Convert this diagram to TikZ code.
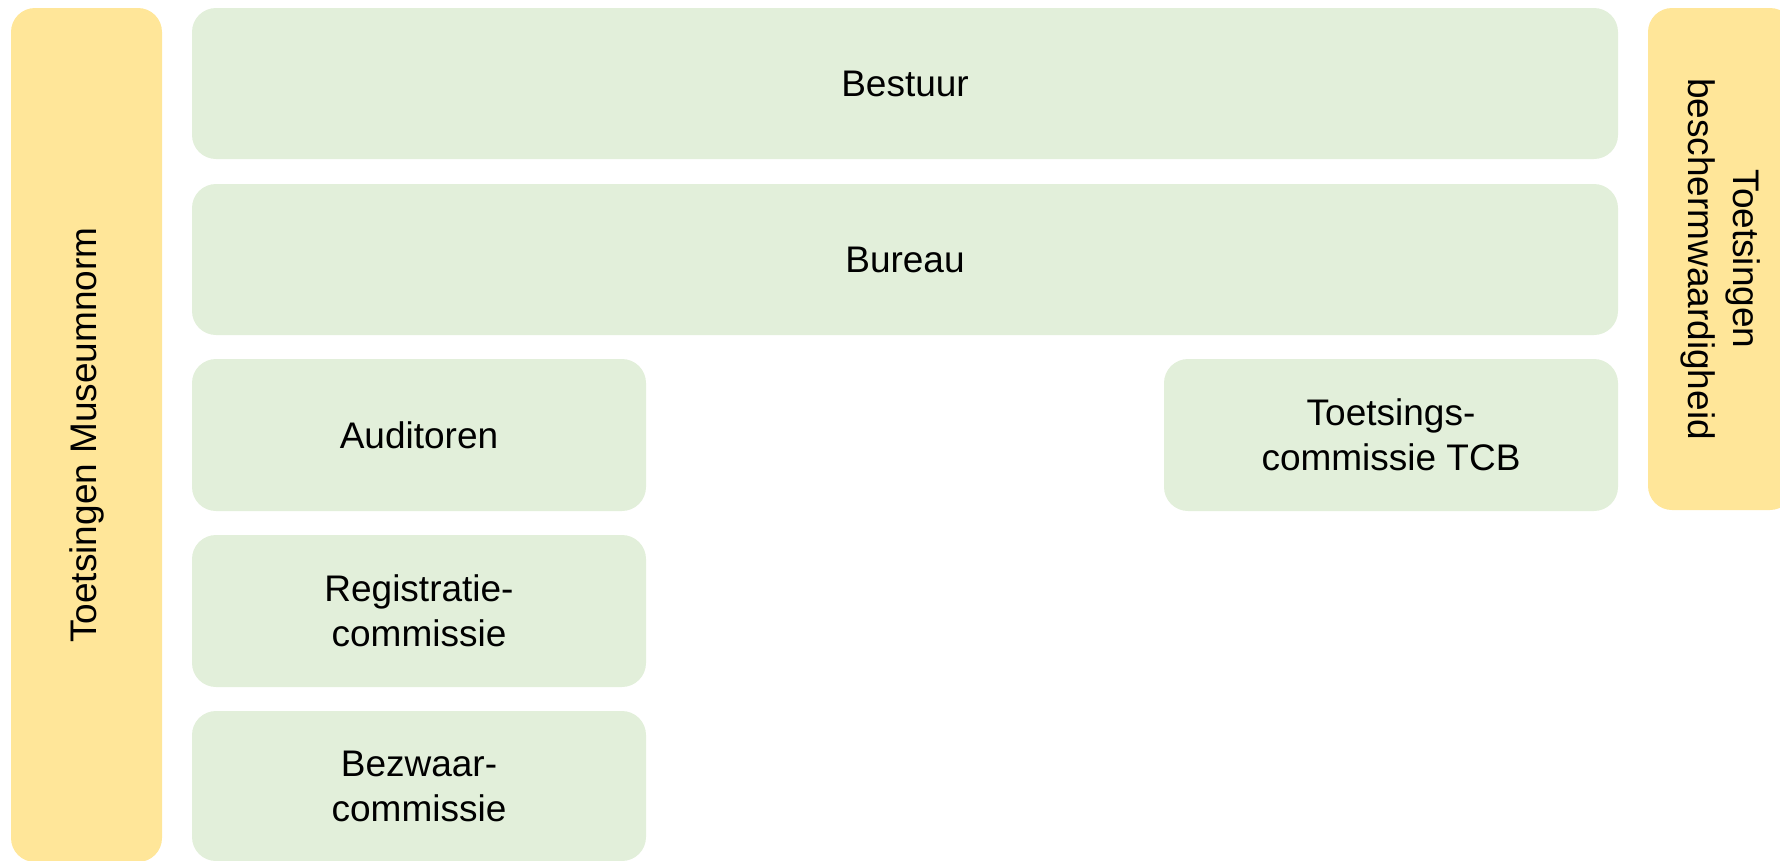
\documentclass[tikz,border=0pt]{standalone}
\usepackage{fontspec}
\setmainfont{Liberation Sans}
\definecolor{ygold}{HTML}{FFE699}
\definecolor{lgreen}{HTML}{E2EFDA}
\begin{document}
\begin{tikzpicture}[x=1pt,y=-1pt,
  box/.style={rounded corners=24pt, inner sep=0pt, align=center, font=\fontsize{37}{45}\selectfont},
  gbox/.style={box, fill=lgreen},
  ybox/.style={box, fill=ygold}]
\useasboundingbox (0,0) rectangle (1780,860);
\begin{scope}
\clip (0,0) rectangle (1780,860);
\node[ybox, rotate=90, minimum width=854pt, minimum height=151pt] (museum) at (86.5,435) {Toetsingen Museumnorm};
\node[ybox, rotate=-90, minimum width=502pt, minimum height=146pt] (bescherm) at (1721,259) {Toetsingen\\beschermwaardigheid};
\node[gbox, minimum width=1426pt, minimum height=151pt] (bestuur) at (905,83.5) {\raisebox{-3pt}{Bestuur}};
\node[gbox, minimum width=1426pt, minimum height=151pt] (bureau) at (905,259.5) {\raisebox{-3pt}{Bureau}};
\node[gbox, minimum width=454pt, minimum height=152pt] (audit) at (419,435) {\raisebox{-3pt}{Auditoren}};
\node[gbox, minimum width=454pt, minimum height=152pt] (tcb) at (1391,435) {Toetsings-\\commissie TCB};
\node[gbox, minimum width=454pt, minimum height=152pt] (reg) at (419,611) {Registratie-\\commissie};
\node[gbox, minimum width=454pt, minimum height=150pt] (bezw) at (419,786) {Bezwaar-\\commissie};
\end{scope}
\end{tikzpicture}
\end{document}
